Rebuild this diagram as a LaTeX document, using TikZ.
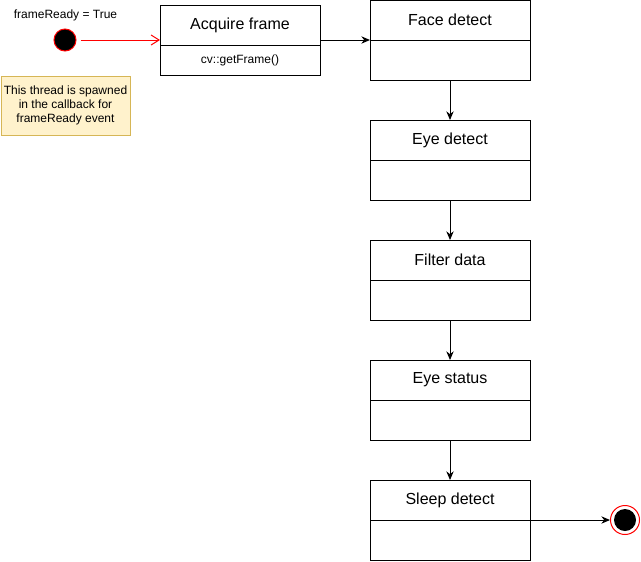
\documentclass[tikz,border=0pt]{standalone}
\usepackage{fontspec}
\setmainfont{Liberation Sans}
\usetikzlibrary{positioning,arrows.meta}

\definecolor{noteFill}{HTML}{FFF2CC}
\definecolor{noteLine}{HTML}{D6B656}

\tikzset{
    boxhead/.style={draw, minimum width=120pt, minimum height=30pt, inner sep=0pt, outer sep=0pt, font=\fontsize{12}{14}\selectfont},
    boxbody/.style={draw, minimum width=120pt, minimum height=30pt, inner sep=0pt, outer sep=0pt, font=\fontsize{9}{10.5}\selectfont},
    smalltext/.style={font=\fontsize{9}{10.5}\selectfont},
    startdot/.style={circle, draw=red, fill=black, minimum size=16.5pt, inner sep=0pt},
    stopring/.style={circle, draw=red, fill=white, minimum size=21.75pt, inner sep=0pt},
    stopdot/.style={circle, fill=black, minimum size=16.5pt, inner sep=0pt},
    notebox/.style={draw=noteLine, fill=noteFill, minimum width=96.75pt, minimum height=44.25pt, inner sep=0pt, align=center, font=\fontsize{9}{10.5}\selectfont},
    flow/.style={-{Stealth[length=6.5pt,width=5.5pt]}},
    trigger/.style={red, -{Straight Barb[length=6pt,width=7.5pt]}},
}

\begin{document}
\begin{tikzpicture}[x=0.75pt, y=-0.75pt, line width=0.75pt]
    \useasboundingbox (0,0) rectangle (641,561);

    % start of the thread
    \node[startdot] (start) at (65,40) {};
    \node[smalltext] (event) at (65.5,15) {frameReady = True};
    \node[notebox] (note) at (65.5,105.5) {This thread is spawned\\in the callback for\\frameReady event};

    % acquire frame
    \node[boxhead] (acq) at (240,25) {Acquire frame};
    \node[boxbody, minimum height=22.5pt, below=0pt of acq] (acqb) {cv::getFrame()};

    % processing chain
    \node[boxhead] (face) at (450,20) {Face detect};
    \node[boxbody, below=0pt of face] (faceb) {};
    \node[boxhead, below=30pt of faceb] (eye) {Eye detect};
    \node[boxbody, below=0pt of eye] (eyeb) {};
    \node[boxhead, below=30pt of eyeb] (filter) {Filter data};
    \node[boxbody, below=0pt of filter] (filterb) {};
    \node[boxhead, below=30pt of filterb] (status) {Eye status};
    \node[boxbody, below=0pt of status] (statusb) {};
    \node[boxhead, below=30pt of statusb] (sleep) {Sleep detect};
    \node[boxbody, below=0pt of sleep] (sleepb) {};

    % end of the thread
    \node[stopring] (stop) at (625,520) {};
    \node[stopdot] (stopin) at (stop) {};

    \draw[trigger, shorten <=3pt] (start) -- (acq.west |- start);
    \draw[flow] (acq.east |- face.south) -- (face.south west);
    \draw[flow] (faceb) -- (eye);
    \draw[flow] (eyeb) -- (filter);
    \draw[flow] (filterb) -- (status);
    \draw[flow] (statusb) -- (sleep);
    \draw[flow] (sleepb.north east) -- (stop);
\end{tikzpicture}
\end{document}
